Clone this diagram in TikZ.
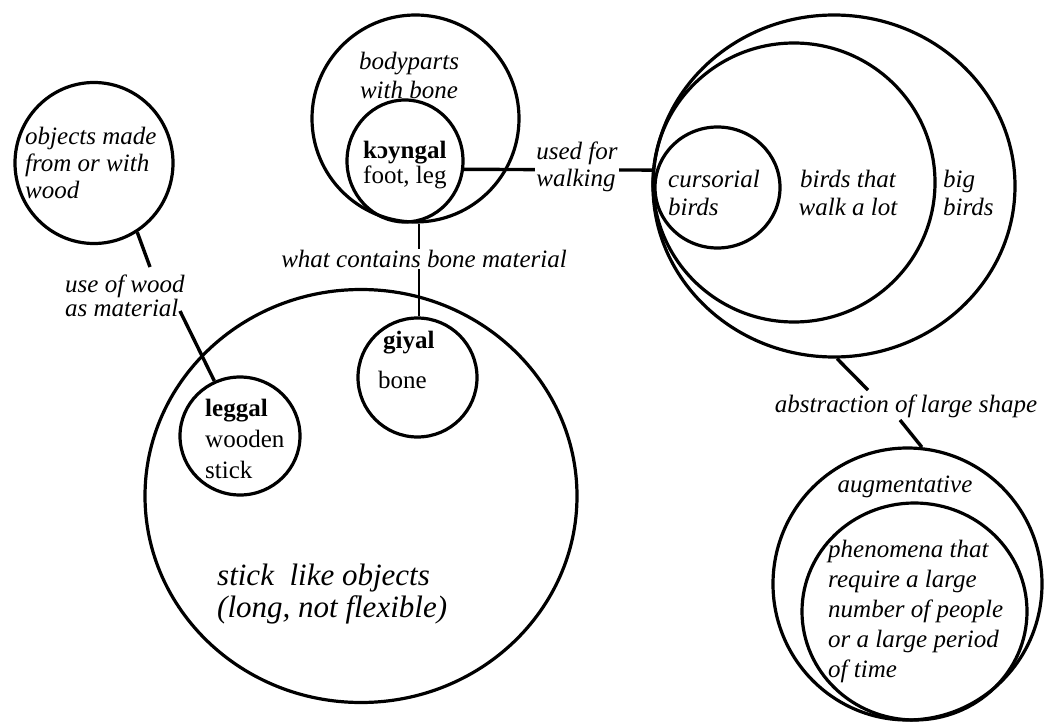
\documentclass[tikz,border=0pt]{standalone}
\usepackage{fontspec}
\setmainfont{Liberation Serif}
\usetikzlibrary{shapes.geometric}
\begin{document}
\begin{tikzpicture}[x=1pt,y=-1pt,
  ring/.style={draw, ellipse, inner sep=0pt, line width=3.2pt},
  conn/.style={line width=3.4pt},
  itl/.style={inner sep=0pt, font=\fontsize{25}{28}\selectfont\itshape},
  rom/.style={inner sep=0pt, font=\fontsize{25}{28}\selectfont},
  bld/.style={inner sep=0pt, font=\fontsize{25}{28}\selectfont\bfseries}]
\path[use as bounding box] (0,0) rectangle (1044,722);

% wood and the stick-like objects
\node[ring, minimum width=158pt, minimum height=161pt] (wood) at (94,163) {};
\node[itl, align=left, anchor=west, font=\fontsize{25}{27}\selectfont\itshape] (woodtxt) at (25,163)
  {objects made\\from or with\\wood};
\node[itl, align=left, anchor=west, font=\fontsize{25}{24}\selectfont\itshape] (usewood) at (65,296)
  {use of wood\\as material};
\node[ring, minimum width=432pt, minimum height=413pt] (stick) at (361,496) {};
\node[itl, align=left, anchor=west, font=\fontsize{31}{32}\selectfont\itshape] (sticktxt) at (217,594)
  {stick\ \ like objects\\(long, not flexible)};
\node[ring, minimum width=120pt, minimum height=118pt] (leg) at (240,436) {};
\node[rom, align=left, anchor=west, font=\fontsize{25}{31}\selectfont] (legtxt) at (205,439)
  {\textbf{leggal}\\wooden\\stick};
\node[ring, minimum width=119pt, minimum height=119pt] (giy) at (417.5,377.5) {};
\node[bld, anchor=base west] (giyname) at (383,348) {giyal};
\node[rom, anchor=base west] (giygloss) at (378,388) {bone};

% body parts
\node[ring, minimum width=207pt, minimum height=207pt] (bp) at (415.5,118.5) {};
\node[itl, align=center, font=\fontsize{25}{29}\selectfont\itshape] (bptxt) at (409,75)
  {bodyparts\\with bone};
\node[ring, minimum width=116pt, minimum height=122pt] (koy) at (405,161) {};
\node[rom, align=left, anchor=west, font=\fontsize{25}{23}\selectfont] (koytxt) at (363,165)
  {\textbf{kɔyngal}\\foot, leg};

% birds
\node[ring, minimum width=362pt, minimum height=342pt] (bb) at (834,186) {};
\node[ring, minimum width=282pt, minimum height=279pt] (bw) at (794,182.5) {};
\node[ring, minimum width=125pt, minimum height=121pt] (cur) at (717.5,187.5) {};
\node[itl, align=left, anchor=west] (curtxt) at (668,193) {cursorial\\birds};
\node[itl, align=center] (bwtxt) at (848,193) {birds that\\walk a lot};
\node[itl, align=left, anchor=west] (bbtxt) at (943,193) {big\\birds};

% augmentative
\node[ring, minimum width=269pt, minimum height=272pt] (aug) at (907.5,584) {};
\node[ring, minimum width=225pt, minimum height=217pt] (phen) at (914.5,611.5) {};
\node[itl] (augtxt) at (905,487) {augmentative};
\node[itl, align=left, anchor=west, font=\fontsize{25}{30}\selectfont\itshape] (phentxt) at (828,611)
  {phenomena that\\require a large\\number of people\\or a large period\\of time};

% connectors
\coordinate (w1) at (150,267);
\coordinate (w2) at (180,311);
\draw[conn] (wood.-58) -- (w1);
\draw[conn] (w2) -- (leg.115);

\draw[line width=2.6pt] (bp.-88) -- (bp.-88 |- giy.north);
\node[itl, fill=white, inner sep=1.5pt] (bonelbl) at (424,259) {what contains bone material};

\draw[conn] (koy.-8) -- (bb.175);
\node[itl, align=left, fill=white, inner sep=1pt, font=\fontsize{25}{27}\selectfont\itshape] (walklbl) at (577,167)
  {used for\\walking};

\coordinate (a1) at (868,390);
\coordinate (a2) at (900,420);
\draw[conn] (bb.-89) -- (a1);
\draw[conn] (a2) -- (aug.84);
\node[itl] (abslbl) at (906,406) {abstraction of large shape};
\end{tikzpicture}
\end{document}
